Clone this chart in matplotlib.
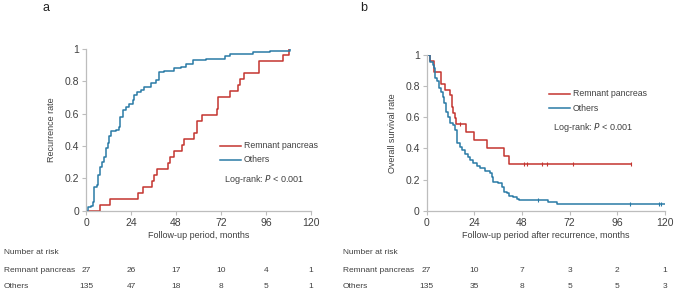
import matplotlib
matplotlib.use("Agg")
import matplotlib.pyplot as plt
import matplotlib.transforms as mtransforms

plt.rcParams['font.family'] = ['Liberation Sans', 'DejaVu Sans']

# ---------------- data ----------------
# Panel a: cumulative recurrence
rp_a_t = [0, 7.5, 12.8, 27.6, 30.6, 35, 36, 37.7, 43.6, 44.8, 47, 51, 52, 57.8, 59, 62,
          70, 70.6, 76.8, 81, 82, 84.4, 92, 105, 108]
rp_a_y = [0, .037, .074, .111, .148, .185, .222, .259, .296, .333, .370, .407, .444, .481,
          .556, .593, .630, .704, .741, .778, .815, .852, .926, .963, 1.0]
ot_a_t = [0, 1.2, 2.7, 3.9, 4.4, 5.9, 6.6, 7.6, 8.4, 9.4, 10.7, 11.6, 12.4, 13.3, 16, 17.4,
          18.3, 19.6, 21.3, 23.1, 24.9, 25.8, 27.2, 29.3, 31.1, 34.7, 37.3, 39.1, 41.8, 47.1,
          50.7, 53.3, 56.9, 60.8, 64, 69.7, 74, 76.8, 89, 98, 108.8]
ot_a_y = [0, .02, .03, .056, .148, .16, .22, .27, .30, .33, .385, .416, .46, .495, .50, .52,
          .58, .62, .643, .66, .685, .715, .736, .746, .767, .788, .808, .856, .866, .88,
          .887, .905, .932, .934, .938, .94, .955, .969, .981, .99, 1.0]

# Panel b: overall survival after recurrence
rp_b_t = [0, 1.8, 3.6, 7.2, 9.2, 11.6, 12.5, 12.9, 13.3, 14.1, 14.9, 19.8, 24, 30.2, 39,
          41.6, 102.7]
rp_b_y = [1, .963, .889, .815, .778, .741, .704, .667, .630, .593, .556, .505, .455, .404,
          .354, .303, .303]
rp_b_cens_t = [16.6, 49.2, 50.3, 58.2, 60.4, 73.5, 102.7]
rp_b_cens_y = [.556, .303, .303, .303, .303, .303, .303]
ot_b_t = [0, 1.7, 3, 3.9, 4.2, 5.4, 6.2, 7.2, 8, 8.9, 9.7, 10.9, 11.7, 13.4, 14.3, 15.1,
          15.4, 16.8, 18, 19.3, 20.6, 21.8, 23.2, 25.2, 26.9, 29.4, 31.9, 32.7, 33.6, 36,
          37.8, 38.9, 40.3, 41.6, 43.6, 45.3, 46.6, 61.2, 65.8, 120]
ot_b_y = [1, .957, .936, .914, .85, .83, .79, .764, .728, .69, .636, .604, .565, .55, .518,
          .507, .433, .411, .39, .364, .347, .325, .304, .287, .272, .257, .244, .218, .186,
          .176, .154, .122, .111, .094, .086, .073, .069, .058, .041, .041]
ot_b_cens_t = [56.2, 102.4, 117, 117.8]
ot_b_cens_y = [.069, .041, .041, .041]

xticks = [0, 24, 48, 72, 96, 120]
yticks = [0, 0.2, 0.4, 0.6, 0.8, 1]
ytick_labels = ['0', '0.2', '0.4', '0.6', '0.8', '1']
groups = ['Remnant pancreas', 'Others']
risk_a = [[27, 26, 17, 10, 4, 1], [135, 47, 18, 8, 5, 1]]
risk_b = [[27, 10, 7, 3, 2, 1], [135, 35, 8, 5, 5, 3]]

RED = '#c4342f'
BLUE = '#2a7aa6'
GRAY = '#bdbdbd'
TXT = '#404040'

W, H = 676, 290
fig = plt.figure(figsize=(W / 100, H / 100), dpi=100)


def fx(px):
    return px / W


def fy(py):
    return 1 - py / H


ax_a = fig.add_axes([fx(86), fy(210.7), fx(311 - 86), (210.7 - 49) / H])
ax_b = fig.add_axes([fx(426.7), fy(210.7), fx(665 - 426.7), (210.7 - 55) / H])


def style(ax):
    ax.set_xlim(0, 120)
    ax.set_ylim(0, 1)
    for s in ['top', 'right']:
        ax.spines[s].set_visible(False)
    for s in ['left', 'bottom']:
        ax.spines[s].set_color(GRAY)
        ax.spines[s].set_linewidth(0.9)
    ax.set_xticks(xticks)
    ax.set_yticks(yticks)
    ax.set_yticklabels(ytick_labels)
    ax.tick_params(axis='both', colors=GRAY, labelcolor=TXT, labelsize=7.5,
                   length=3, width=0.8, direction='out', pad=2)
    ax.patch.set_alpha(0)


style(ax_a)
style(ax_b)

# panel a
ax_a.step(rp_a_t, rp_a_y, where='post', color=RED, lw=1.1)
ax_a.step(ot_a_t, ot_a_y, where='post', color=BLUE, lw=1.1)
ax_a.set_ylabel('Recurrence rate', fontsize=6.5, color=TXT, labelpad=6)

# panel b
ax_b.step(rp_b_t, rp_b_y, where='post', color=RED, lw=1.1)
ax_b.step(ot_b_t, ot_b_y, where='post', color=BLUE, lw=1.1)
ax_b.plot(rp_b_cens_t, rp_b_cens_y, ls='none', marker='|', ms=3.5, mew=0.8, color=RED)
ax_b.plot(ot_b_cens_t, ot_b_cens_y, ls='none', marker='|', ms=3.5, mew=0.8, color=BLUE)
ax_b.set_ylabel('Overall survival rate', fontsize=6.5, color=TXT, labelpad=6)

# legends (manual, to match placement)
def legend(x0, y_red, y_blue, y_lr):
    for y, c, lab in [(y_red, RED, groups[0]), (y_blue, BLUE, groups[1])]:
        fig.add_artist(plt.Line2D([fx(x0), fx(x0 + 21)], [fy(y), fy(y)], color=c, lw=1.1))
        fig.text(fx(x0 + 24), fy(y), lab, fontsize=6.3, color=TXT, va='center', ha='left')


legend(220, 146, 160, 179)
fig.text(fx(224), fy(179), 'Log-rank: $\\it{P}$ < 0.001', fontsize=6.5, color=TXT,
         va='center', ha='left')
legend(549, 94, 108, 127)
fig.text(fx(553), fy(127), 'Log-rank: $\\it{P}$ < 0.001', fontsize=6.5, color=TXT,
         va='center', ha='left')

# x labels
fig.text((fx(86) + fx(311)) / 2, fy(236), 'Follow-up period, months', fontsize=6.5,
         color=TXT, ha='center', va='center')
fig.text((fx(426.7) + fx(665)) / 2, fy(236), 'Follow-up period after recurrence, months',
         fontsize=6.5, color=TXT, ha='center', va='center')

# panel letters
fig.text(fx(46), fy(8), 'a', fontsize=9, color='#222222', ha='center', va='center')
fig.text(fx(364), fy(8), 'b', fontsize=9, color='#222222', ha='center', va='center')

# numbers at risk
def risk_table(ax, x_label_px, risk):
    tr = mtransforms.blended_transform_factory(ax.transData, fig.transFigure)
    fig.text(fx(x_label_px), fy(252), 'Number at risk', fontsize=6, color=TXT,
             ha='left', va='center')
    for row, ypx in zip(range(2), [270, 286]):
        fig.text(fx(x_label_px), fy(ypx), groups[row], fontsize=6, color=TXT,
                 ha='left', va='center')
        for xt, n in zip(xticks, risk[row]):
            ax.text(xt, fy(ypx), str(n), transform=tr, fontsize=6, color=TXT,
                    ha='center', va='center')


risk_table(ax_a, 4, risk_a)
risk_table(ax_b, 343, risk_b)

fig.savefig('out.png', dpi=100)
